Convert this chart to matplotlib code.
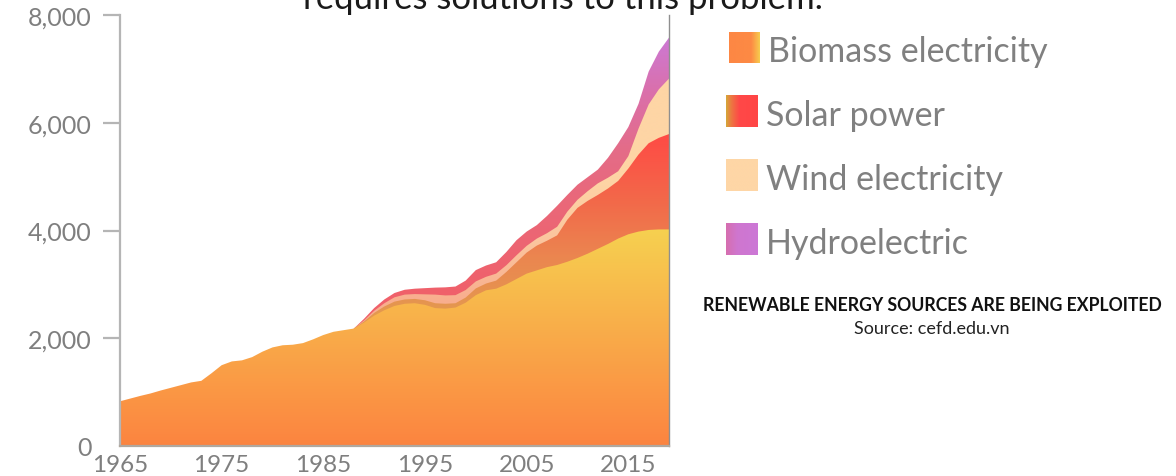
import numpy as np
import matplotlib
matplotlib.use('Agg')
import matplotlib.pyplot as plt
from matplotlib.colors import to_rgba
from matplotlib.path import Path

plt.rcParams['font.family'] = ['Lato', 'DejaVu Sans']

# ---------------- data ----------------
years = list(range(1965, 2020))
biomass = [830, 880, 930, 975, 1030, 1080, 1130, 1180, 1210, 1350, 1500, 1570,
           1590, 1650, 1750, 1830, 1870, 1880, 1910, 1980, 2060, 2120, 2150, 2180,
           2290, 2420, 2520, 2600, 2640, 2650, 2620, 2560, 2550, 2570, 2660, 2800,
           2890, 2920, 3000, 3100, 3200, 3260, 3320, 3360, 3420, 3490, 3570, 3660,
           3750, 3850, 3930, 3980, 4010, 4020, 4020]
solar = [0] * 24 + [20, 50, 70, 80, 80, 80, 85, 90, 90, 80, 95, 125, 125, 150, 230,
                    310, 390, 460, 490, 550, 780, 930, 980, 1000, 1030, 1070, 1220,
                    1430, 1610, 1700, 1770]
wind = [0] * 24 + [20, 40, 60, 80, 90, 90, 110, 160, 155, 150, 140, 130, 125, 130,
                   125, 130, 125, 130, 140, 160, 150, 150, 180, 215, 200, 180, 230,
                   480, 720, 900, 1030]
hydro = [0] * 24 + [30, 50, 70, 80, 90, 100, 115, 130, 150, 160, 175, 210, 210, 210,
                    245, 280, 265, 250, 320, 390, 310, 280, 260, 255, 370, 520, 540,
                    460, 610, 700, 760]

legend_labels = ["Biomass electricity", "Solar power", "Wind electricity", "Hydroelectric"]
x_ticks = [1965, 1975, 1985, 1995, 2005, 2015]
y_ticks = [0, 2000, 4000, 6000, 8000]
title_text = "requires solutions to this problem."
caption = "RENEWABLE ENERGY SOURCES ARE BEING EXPLOITED"
source = "Source: cefd.edu.vn"

# ---------------- figure ----------------
W, H = 1176, 477
fig = plt.figure(figsize=(W / 100, H / 100), dpi=100)


def px_axes(l, t, r, b):
    return fig.add_axes([l / W, 1 - b / H, (r - l) / W, (b - t) / H])


ax = px_axes(120, 16, 669, 447)

x = np.array(years, dtype=float)
b = np.array(biomass, float)
s = np.array(solar, float)
w = np.array(wind, float)
h = np.array(hydro, float)
top_b = b
top_s = top_b + s
top_w = top_s + w
top_h = top_w + h

YMAX = 8000


def grad_rgba(stops, n=800):
    v = np.linspace(0, YMAX, n)
    vals = [st[0] for st in stops]
    cols = np.array([to_rgba(st[1]) for st in stops])
    rgba = np.stack([np.interp(v, vals, cols[:, i]) for i in range(4)], axis=1)
    return rgba[:, None, :]


biomass_stops = [(0, '#FC8440'), (2000, '#F9AA49'), (4100, '#F6D250')]
solar_stops = [(2500, '#E4984F'), (3500, '#EB8650'), (4500, '#F26A4A'), (5800, '#FF4A45')]
wind_stops = [(2700, '#F8AE8E'), (3800, '#FBC59E'), (5000, '#FED5A5')]
hydro_stops = [(2800, '#F0606A'), (4500, '#EA6879'), (5500, '#E46C88'),
               (6600, '#DA70AC'), (7600, '#CC79D5')]

layers = [(top_h, h, hydro_stops), (top_w, w, wind_stops),
          (top_s, s, solar_stops), (top_b, b, biomass_stops)]

for z, (top, thick, stops) in enumerate(layers):
    active = thick > 0
    active[:-1] |= active[1:]
    poly = ax.fill_between(x, 0, top, where=active, facecolor='none',
                           edgecolor='none', linewidth=0)
    path = Path.make_compound_path(*poly.get_paths())
    im = ax.imshow(grad_rgba(stops), extent=[x[0], x[-1], 0, YMAX], origin='lower',
                   aspect='auto', interpolation='bilinear', zorder=0.1 + 0.1 * z)
    im.set_clip_path(path, transform=ax.transData)

ax.set_xlim(x[0], x[-1])
ax.set_ylim(0, YMAX)

ax.spines['top'].set_visible(False)
ax.spines['left'].set_color('#B5B5B5')
ax.spines['left'].set_linewidth(1.6)
ax.spines['right'].set_color('#8F8F8F')
ax.spines['right'].set_linewidth(1.0)
ax.spines['bottom'].set_color('#B0A89F')
ax.spines['bottom'].set_linewidth(1.6)

ax.set_yticks(y_ticks)
ax.set_yticklabels([f"{v:,}" for v in y_ticks])
ax.tick_params(axis='y', length=12.5, width=1.6, color='#B5B5B5',
               labelcolor='#7F7F7F', labelsize=18, pad=8)
ax.yaxis.get_major_ticks()[0].tick1line.set_visible(False)
ax.set_xticks(x_ticks)
ax.set_xticklabels([str(v) for v in x_ticks])
ax.tick_params(axis='x', length=0, labelcolor='#7F7F7F', labelsize=17.5, pad=6)

# ---------------- legend ----------------
legend_grads = [
    [(0.0, '#FD8744'), (0.72, '#FD8A44'), (1.0, '#F7CC4E')],
    [(0.0, '#D4A83A'), (0.18, '#EE7442'), (0.42, '#FF4848'), (1.0, '#FF4545')],
    [(0.0, '#FED6A6'), (1.0, '#FED6A6')],
    [(0.0, '#D66EAE'), (0.35, '#CF76CF'), (1.0, '#CC78D6')],
]
sq_boxes = [(729, 33, 760, 64), (726, 96, 758, 128), (726, 160, 758, 192), (726, 224, 758, 256)]
text_pos = [(768, 62), (766, 126), (766, 190), (766, 254)]

for lab, gstops, box, tp in zip(legend_labels, legend_grads, sq_boxes, text_pos):
    lax = px_axes(*box)
    t = np.linspace(0, 1, 200)
    cols = np.array([to_rgba(c) for _, c in gstops])
    pos = [p for p, _ in gstops]
    rgba = np.stack([np.interp(t, pos, cols[:, i]) for i in range(4)], axis=1)[None, :, :]
    lax.imshow(rgba, aspect='auto', extent=[0, 1, 0, 1], interpolation='bilinear')
    lax.set_axis_off()
    fig.text(tp[0] / W, 1 - tp[1] / H, lab, fontsize=24.5, color='#808080',
             ha='left', va='baseline')

fig.text(932 / W, 1 - 306 / H, caption, fontsize=12.7, fontweight='bold',
         color='#111111', ha='center', va='center')
fig.text(932 / W, 1 - 329 / H, source, fontsize=13, color='#222222',
         ha='center', va='center')

fig.text(563 / W, 1 - 9 / H, title_text, fontsize=25, color='#1A1A1A',
         ha='center', va='baseline')

fig.savefig('out.png', dpi=100)
